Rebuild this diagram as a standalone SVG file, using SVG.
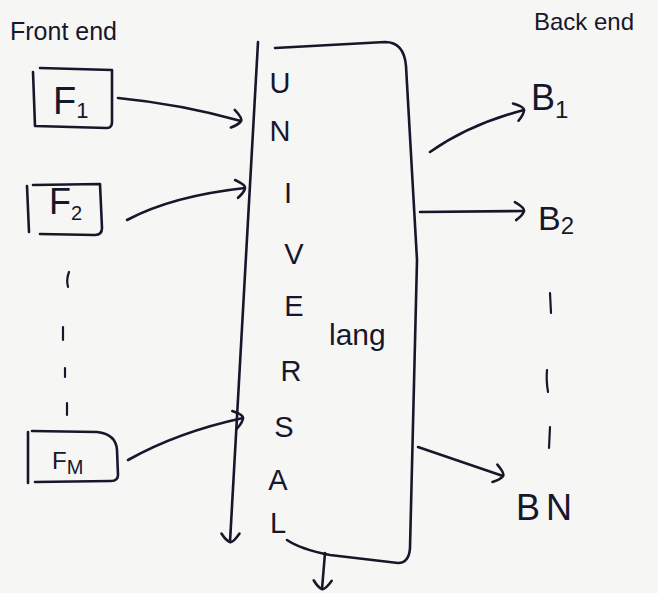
<svg xmlns="http://www.w3.org/2000/svg" width="658" height="593" viewBox="0 0 658 593">
  <defs>
    <style>
      .ink { fill: none; stroke: #17172b; stroke-width: 2.6; stroke-linecap: round; stroke-linejoin: round; }
      .txt { fill: #17172b; font-family: "Liberation Sans", "DejaVu Sans", sans-serif; }
      .letter { font-size: 29px; text-anchor: middle; }
      .head { font-size: 25px; }
      .dash { fill: none; stroke: #17172b; stroke-width: 2.2; stroke-linecap: round; }
    </style>
    <!-- open hooked arrowhead, hand-drawn feel -->
    <marker id="hook" markerUnits="userSpaceOnUse" markerWidth="24" markerHeight="24" refX="0" refY="0" viewBox="-14 -12 24 24" orient="auto" overflow="visible">
      <path d="M-9,-9 Q1,-3 0,0 Q-1,4 -8,9" fill="none" stroke="#17172b" stroke-width="2.6" stroke-linecap="round"/>
    </marker>
  </defs>

  <rect x="0" y="0" width="658" height="593" fill="#f6f6f5"/>

  <!-- column headings -->
  <text class="txt head" x="10" y="40">Front end</text>
  <text class="txt" x="534" y="30" font-size="24">Back end</text>

  <!-- front-end nodes -->
  <g id="F1">
    <path class="ink" d="M33,72 L35,126 L107,128 Q112,128 112,122 L112,70 L40,68"/>
    <text class="txt" x="53" y="114" font-size="38">F<tspan font-size="22" dy="4">1</tspan></text>
  </g>
  <g id="F2">
    <path class="ink" d="M27,186 L29,232 M33,185 L100,184 L102,228 Q102,235 95,235 L40,234"/>
    <text class="txt" x="49" y="214" font-size="36">F<tspan font-size="20" dy="6">2</tspan></text>
  </g>
  <g id="FM">
    <path class="ink" d="M28,432 L28,483 M32,431 L97,432 Q116,434 117,450 L118,475 Q118,481 111,481 L35,482"/>
    <text class="txt" x="52" y="469" font-size="24">F<tspan font-size="20" dy="5">M</tspan></text>
  </g>

  <!-- UNIVERSAL middle layer -->
  <g id="universal">
    <path class="ink" d="M275,48 L385,42 Q404,42 406,66 L417,260 L410,548 Q409,563 398,563 L330,555 Q300,549 287,540"/>
    <text class="txt letter" x="280" y="93">U</text>
    <text class="txt letter" x="280" y="141">N</text>
    <text class="txt letter" x="288" y="203">I</text>
    <text class="txt letter" x="294" y="264">V</text>
    <text class="txt letter" x="294" y="316">E</text>
    <text class="txt letter" x="291" y="381">R</text>
    <text class="txt letter" x="284" y="437">S</text>
    <text class="txt letter" x="278" y="490">A</text>
    <text class="txt letter" x="278" y="533">L</text>
    <text class="txt" x="329" y="345" font-size="30">lang</text>
  </g>

  <!-- back-end nodes -->
  <g id="B1">
    <text class="txt" x="531" y="110" font-size="36">B<tspan font-size="24" dy="8">1</tspan></text>
  </g>
  <g id="B2">
    <text class="txt" x="538" y="230" font-size="34">B<tspan font-size="24" dy="4">2</tspan></text>
  </g>
  <g id="BN">
    <text class="txt" x="516" y="520" font-size="36" letter-spacing="6">BN</text>
  </g>

  <!-- connectors -->
  <g id="connectors">
    <path class="ink" d="M118,98 Q180,104 241,121" marker-end="url(#hook)"/>
    <path class="ink" d="M127,220 Q172,196 245,188" marker-end="url(#hook)"/>
    <path class="ink" d="M128,460 Q178,432 243,418" marker-end="url(#hook)"/>
    <path class="ink" d="M258,42 L230,542" marker-end="url(#hook)"/>
    <path class="ink" d="M325,553 L322,589" marker-end="url(#hook)"/>
    <path class="ink" d="M430,152 Q470,124 524,110" marker-end="url(#hook)"/>
    <path class="ink" d="M420,212 L524,211" marker-end="url(#hook)"/>
    <path class="ink" d="M418,447 L503,476" marker-end="url(#hook)"/>
    <!-- elided nodes between F2 and FM, and between B2 and BN -->
    <path class="dash" d="M69,272 Q66,280 68,287 M63,327 L63,340 M65,368 L65,377 M67,403 L67,415"/>
    <path class="dash" d="M550,293 L551,313 M547,370 Q546,380 548,392 M550,427 L549,448"/>
  </g>
</svg>
